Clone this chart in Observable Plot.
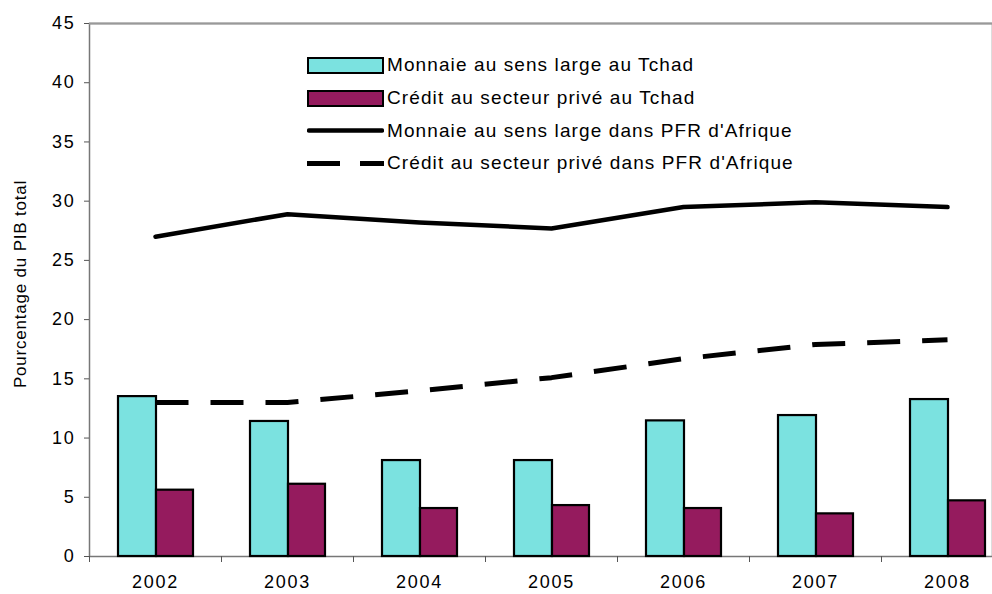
<!DOCTYPE html>
<html>
<head>
<meta charset="utf-8">
<script src="https://cdn.jsdelivr.net/npm/d3@7"></script>
<script src="https://cdn.jsdelivr.net/npm/@observablehq/plot@0.6"></script>
<style>
  html, body { margin: 0; padding: 0; background: #fff; overflow: hidden; }
  #wrap { position: relative; width: 992px; height: 594px; font-family: "Liberation Sans", Arial, sans-serif; }
  #legend { position: absolute; left: 307px; top: 49px; font-size: 19px; letter-spacing: 1.1px; color: #000; }
  .row { display: flex; align-items: center; height: 32.7px; }
  .row svg { margin-right: 3px; }
  #ytitle { position: absolute; left: 21px; top: 284px; transform: translate(-50%, -50%) rotate(-90deg); font-size: 17px; letter-spacing: 0.8px; white-space: nowrap; }
</style>
</head>
<body>
<div id="wrap">
  <div id="chart"></div>
  <div id="ytitle">Pourcentage du PIB total</div>
  <div id="legend"></div>
</div>
<script>
const years = ["2002", "2003", "2004", "2005", "2006", "2007", "2008"];
const monnaieTchad = [13.5, 11.4, 8.1, 8.1, 11.45, 11.9, 13.25];
const creditTchad = [5.6, 6.1, 4.05, 4.3, 4.05, 3.6, 4.7];
const monnaiePFR = [27.0, 28.9, 28.2, 27.7, 29.5, 29.9, 29.5];
const creditPFR = [13.0, 13.0, 14.0, 15.1, 16.7, 17.9, 18.3];
const yTicks = [0, 5, 10, 15, 20, 25, 30, 35, 40, 45];
const seriesNames = [
  "Monnaie au sens large au Tchad",
  "Crédit au secteur privé au Tchad",
  "Monnaie au sens large dans PFR d'Afrique",
  "Crédit au secteur privé dans PFR d'Afrique"
];
const colors = ["#7BE2E0", "#951B5E"];

const rows = (vals) => years.map((y, i) => ({year: y, value: vals[i]}));

const chart = Plot.plot({
  width: 992,
  height: 594,
  marginTop: 23,
  marginBottom: 38,
  marginLeft: 89,
  marginRight: 0,
  style: {fontFamily: "Liberation Sans, Arial, sans-serif", background: "white", letterSpacing: "1.8px"},
  x: {domain: years, range: [89, 1013], padding: 0},
  y: {domain: [0, 45], range: [556, 23]},
  marks: [
    Plot.frame({stroke: "#777", strokeWidth: 1.5}),
    Plot.ruleY([45], {stroke: "#999", strokeWidth: 2}),
    Plot.axisY(yTicks, {tickSize: 5, tickPadding: 9, fontSize: 18, stroke: "#555", fill: "#000", label: null}),
    Plot.axisX(years, {tickSize: 6, dx: -66, text: null, stroke: "#555", label: null}),
    Plot.axisX(years, {tickSize: 0, tickPadding: 19, fontSize: 18, fill: "#000", label: null}),
    Plot.barY(rows(monnaieTchad), {x: "year", y: "value", fill: colors[0], stroke: "#000", strokeWidth: 2.2, insetLeft: 29, insetRight: 65}),
    Plot.barY(rows(creditTchad), {x: "year", y: "value", fill: colors[1], stroke: "#000", strokeWidth: 2.2, insetLeft: 67, insetRight: 28}),
    Plot.line(rows(monnaiePFR), {x: "year", y: "value", stroke: "#000", strokeWidth: 4.5}),
    Plot.line(rows(creditPFR), {x: "year", y: "value", stroke: "#000", strokeWidth: 5, strokeDasharray: "33,22", strokeLinecap: "butt"})
  ]
});
document.getElementById("chart").appendChild(chart);

const legend = document.getElementById("legend");
const swatches = [
  `<svg width="77" height="17"><rect x="1" y="1" width="75" height="15" fill="${colors[0]}" stroke="#000" stroke-width="2"/></svg>`,
  `<svg width="77" height="17"><rect x="1" y="1" width="75" height="15" fill="${colors[1]}" stroke="#000" stroke-width="2"/></svg>`,
  `<svg width="77" height="17"><line x1="2" x2="75" y1="8.5" y2="8.5" stroke="#000" stroke-width="4.5" stroke-linecap="round"/></svg>`,
  `<svg width="77" height="17"><line x1="0" x2="77" y1="8.5" y2="8.5" stroke="#000" stroke-width="5" stroke-dasharray="33,20"/></svg>`
];
seriesNames.forEach((name, i) => {
  const row = document.createElement("div");
  row.className = "row";
  row.innerHTML = swatches[i] + `<span>${name}</span>`;
  legend.appendChild(row);
});
</script>
</body>
</html>
